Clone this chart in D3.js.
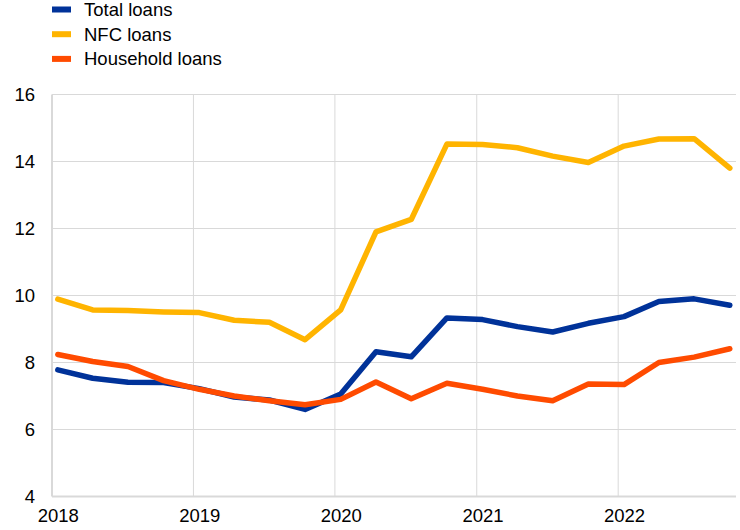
<!DOCTYPE html>
<html lang="en">
<head>
<meta charset="UTF-8">
<title>Loans</title>
<script src="https://d3js.org/d3.v7.min.js"></script>
<style>
    body { margin: 0; background: #fff; }
    text { font-family: "Liberation Sans", Arial, sans-serif; fill: #000; }
</style>
</head>
<body>
<svg width="740" height="530"></svg>
<script>
    // quarterly observations, 2018 Q1 .. 2022 Q4
    var quarters = ["2018-01", "2018-04", "2018-07", "2018-10",
                    "2019-01", "2019-04", "2019-07", "2019-10",
                    "2020-01", "2020-04", "2020-07", "2020-10",
                    "2021-01", "2021-04", "2021-07", "2021-10",
                    "2022-01", "2022-04", "2022-07", "2022-10"];
    var totalLoans = [7.78, 7.53, 7.41, 7.40, 7.22, 6.97, 6.88, 6.60, 7.06, 8.32,
                      8.17, 9.33, 9.28, 9.07, 8.91, 9.17, 9.37, 9.82, 9.90, 9.71];
    var nfcLoans = [9.89, 9.57, 9.55, 9.51, 9.49, 9.26, 9.20, 8.68, 9.57, 11.90,
                    12.27, 14.52, 14.51, 14.41, 14.16, 13.97, 14.46, 14.67, 14.68, 13.80];
    var householdLoans = [8.24, 8.03, 7.88, 7.46, 7.20, 7.00, 6.86, 6.74, 6.90, 7.42,
                          6.92, 7.38, 7.20, 7.00, 6.86, 7.36, 7.34, 8.00, 8.16, 8.41];
    var yTicks = [4, 6, 8, 10, 12, 14, 16];
    var yearTicks = ["2018", "2019", "2020", "2021", "2022"];

    var series = [
        {name: "Total loans", values: totalLoans, color: "#003299"},
        {name: "NFC loans", values: nfcLoans, color: "#ffb400"},
        {name: "Household loans", values: householdLoans, color: "#ff4b00"}
    ];

    var svg = d3.select("svg");
    var plotLeft = 52, plotRight = 736, plotTop = 94.5, plotBottom = 496.5;
    var fontSize = "18.5px";

    var parseQ = d3.timeParse("%Y-%m-%d");
    var dates = quarters.map(function (q) { return parseQ(q + "-16"); });

    var x = d3.scaleTime()
        .domain([new Date(2018, 0, 1), new Date(2022, 10, 1)])
        .range([plotLeft, plotRight]);
    var y = d3.scaleLinear().domain([4, 16]).range([plotBottom, plotTop]);

    // grid
    var grid = svg.append("g");
    grid.selectAll(".hg").data(yTicks).enter().append("line")
        .attr("x1", plotLeft).attr("x2", plotRight)
        .attr("y1", function (d) { return y(d); })
        .attr("y2", function (d) { return y(d); })
        .attr("stroke", "#d9d9d9")
        .attr("stroke-width", function (d) { return d === 4 ? 2 : 1; });
    grid.selectAll(".vg").data(yearTicks).enter().append("line")
        .attr("x1", function (d) { return x(new Date(+d, 0, 1)); })
        .attr("x2", function (d) { return x(new Date(+d, 0, 1)); })
        .attr("y1", plotTop).attr("y2", plotBottom)
        .attr("stroke", "#d9d9d9")
        .attr("stroke-width", function (d) { return d === "2018" ? 2 : 1; });

    // y axis labels
    var yAxis = d3.axisLeft(y).tickValues(yTicks).tickSize(0).tickPadding(0);
    svg.append("g")
        .attr("transform", "translate(35,0)")
        .call(yAxis)
        .call(function (g) { g.select(".domain").remove(); })
        .selectAll("text")
        .attr("font-size", fontSize)
        .attr("font-family", "Liberation Sans, Arial, sans-serif")
        .attr("fill", "#000");

    // x axis labels, centred under first quarter of each year
    var xAxis = d3.axisBottom(x)
        .tickValues(yearTicks.map(function (yr) { return new Date(+yr, 0, 16); }))
        .tickFormat(d3.timeFormat("%Y"))
        .tickSize(0).tickPadding(0);
    svg.append("g")
        .attr("transform", "translate(0,509)")
        .call(xAxis)
        .call(function (g) { g.select(".domain").remove(); })
        .selectAll("text")
        .attr("font-size", fontSize)
        .attr("font-family", "Liberation Sans, Arial, sans-serif")
        .attr("fill", "#000");

    // lines
    var line = d3.line()
        .x(function (d, i) { return x(dates[i]); })
        .y(function (d) { return y(d); });

    svg.selectAll(".series").data(series).enter().append("path")
        .attr("class", "series")
        .attr("d", function (s) { return line(s.values); })
        .attr("fill", "none")
        .attr("stroke", function (s) { return s.color; })
        .attr("stroke-width", 5.5)
        .attr("stroke-linejoin", "round")
        .attr("stroke-linecap", "round");

    // legend
    var legend = svg.selectAll(".legend").data(series).enter().append("g")
        .attr("transform", function (s, i) { return "translate(52," + (9.5 + i * 24.7) + ")"; });
    legend.append("rect")
        .attr("x", 0).attr("y", -3).attr("width", 19).attr("height", 6)
        .attr("fill", function (s) { return s.color; });
    legend.append("text")
        .attr("x", 32).attr("y", 6.5)
        .attr("font-size", fontSize)
        .text(function (s) { return s.name; });
</script>
</body>
</html>
